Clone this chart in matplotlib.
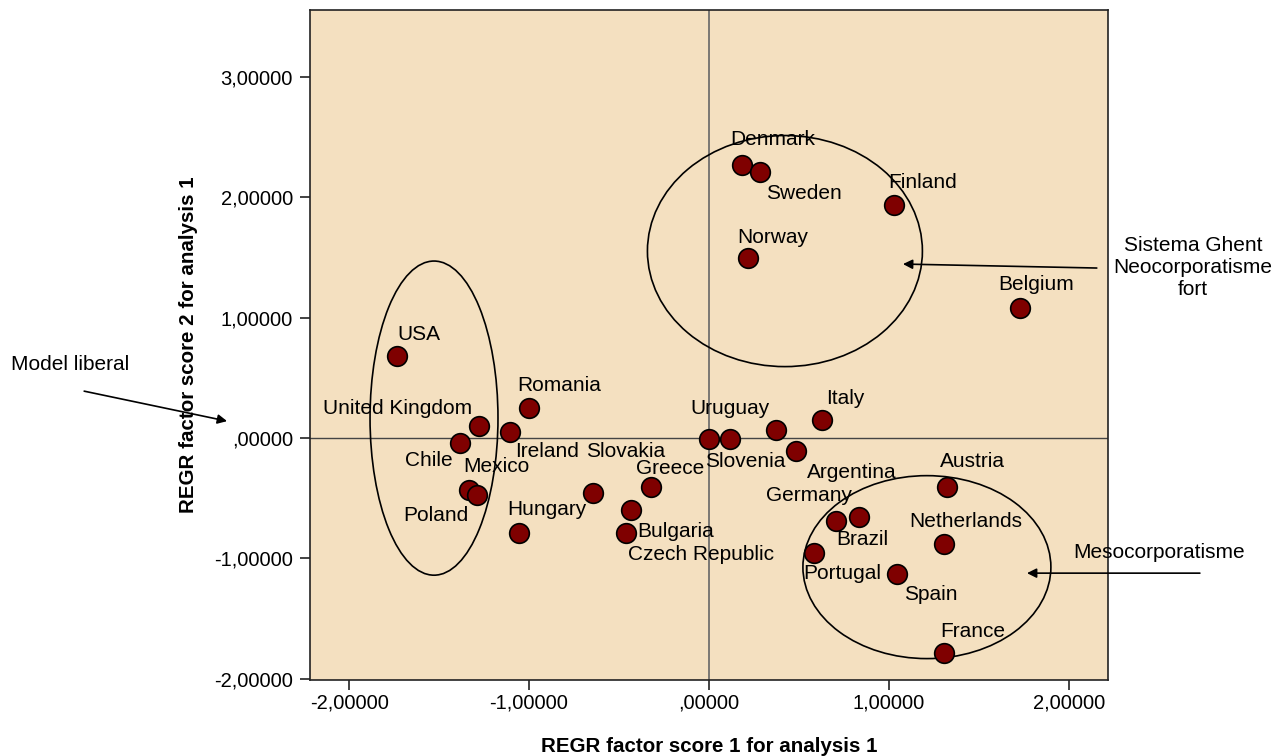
import matplotlib
matplotlib.use('Agg')
import matplotlib.pyplot as plt
from matplotlib.patches import Ellipse
from matplotlib.ticker import FuncFormatter

plt.rcParams['font.family'] = ['Liberation Sans', 'DejaVu Sans']

# 数据 (factor scores)
countries = ['USA', 'United Kingdom', 'Chile', 'Ireland', 'Romania', 'Mexico', 'Poland',
             'Hungary', 'Slovakia', 'Greece', 'Czech Republic', 'Bulgaria',
             'Uruguay', 'Slovenia', '', 'Argentina', 'Italy',
             'Germany', 'Brazil', 'Portugal', 'Spain', 'Netherlands', 'Austria', 'France',
             'Denmark', 'Sweden', 'Norway', 'Finland', 'Belgium']
score1 = [-1.733, -1.278, -1.383, -1.106, -1.000, -1.333, -1.289,
          -1.056, -0.644, -0.322, -0.433, -0.461,
          0.000, 0.117, 0.372, 0.483, 0.628,
          0.706, 0.833, 0.583, 1.044, 1.306, 1.322, 1.306,
          0.183, 0.283, 0.217, 1.028, 1.728]
score2 = [0.682, 0.100, -0.040, 0.050, 0.250, -0.430, -0.470,
          -0.790, -0.457, -0.410, -0.600, -0.790,
          -0.008, -0.008, 0.067, -0.108, 0.150,
          -0.690, -0.655, -0.955, -1.125, -0.880, -0.410, -1.785,
          2.270, 2.210, 1.496, 1.937, 1.080]

# 标签偏移 (pixels, relative to the point)
label_offsets = [(22, 22), (-81, 18), (-31, -18), (37, -19), (30, 23), (27, 23), (-41, -21),
                 (28, 24), (33, 42), (19, 19), (70, -44), (50, 2),
                 (21, 31), (15, -22), (0, 0), (56, -21), (23, 22),
                 (-27, 26), (3, -23), (28, -20), (34, -21), (22, 23), (26, 26), (29, 21),
                 (31, 25), (44, -21), (25, 21), (29, 22), (16, 24)]

# 分组椭圆 (center x, center y, width, height)
groups = [(-1.528, 0.166, 0.711, 2.61),
          (0.422, 1.554, 1.528, 1.92),
          (1.211, -1.072, 1.378, 1.52)]

# 注释 (text, text position, arrow tail, arrow head)
notes = [('Model liberal', (-3.55, 0.61), (-3.472, 0.39), (-2.678, 0.141)),
         ('Sistema Ghent\nNeocorporatisme\nfort', (2.689, 1.42), (2.155, 1.413), (1.078, 1.446)),
         ('Mesocorporatisme', (2.502, -0.95), (2.728, -1.122), (1.767, -1.122))]

BG = '#F4E0C0'
MARKER = '#7F0000'
FS = 15


def fmt(v, pos):
    s = f'{v:.5f}'.replace('.', ',')
    if s.startswith('0,'):
        s = s[1:]
    elif s.startswith('-0,'):
        s = s[2:]
    return s


fig = plt.figure(figsize=(12.88, 7.56), dpi=100)
ax = fig.add_axes([0.2407, 0.1005, 0.8602 - 0.2407, 0.9868 - 0.1005])
ax.set_facecolor(BG)
ax.set_xlim(-2.217, 2.217)
ax.set_ylim(-2.01, 3.557)
ax.set_xticks([-2, -1, 0, 1, 2])
ax.set_yticks([-2, -1, 0, 1, 2, 3])
ax.xaxis.set_major_formatter(FuncFormatter(fmt))
ax.yaxis.set_major_formatter(FuncFormatter(fmt))
ax.tick_params(labelsize=14.5, length=7.2, width=1.2, color='#222222')
ax.tick_params(axis='x', pad=2.5)
ax.tick_params(axis='y', pad=5)
for sp in ax.spines.values():
    sp.set_linewidth(1.2)
    sp.set_color('#222222')

ax.axhline(0, color='#444444', lw=1, zorder=1)
ax.axvline(0, color='#666666', lw=1.2, zorder=1)

for cx, cy, w, h in groups:
    ax.add_patch(Ellipse((cx, cy), w, h, fill=False, ec='black', lw=1.2, zorder=2))

ax.scatter(score1, score2, s=200, c=MARKER, edgecolors='black', linewidths=1.2, zorder=3)

for name, x, y, off in zip(countries, score1, score2, label_offsets):
    if name:
        ax.annotate(name, (x, y), xytext=(off[0], off[1]), textcoords='offset pixels',
                    ha='center', va='center', fontsize=FS, zorder=4)

for text, tpos, tail, head in notes:
    ax.text(tpos[0], tpos[1], text, ha='center', va='center', fontsize=FS,
            linespacing=1.2, clip_on=False)
    ax.annotate('', xy=head, xytext=tail, annotation_clip=False,
                arrowprops=dict(arrowstyle='-|>', color='black', lw=1.2,
                                mutation_scale=14, shrinkA=0, shrinkB=0))

ax.set_xlabel('REGR factor score 1 for analysis 1', fontsize=14.8, fontweight='bold', labelpad=18)
ax.set_ylabel('REGR factor score 2 for analysis 1', fontsize=14.8, fontweight='bold', labelpad=12)

fig.savefig('out.png', dpi=100)
